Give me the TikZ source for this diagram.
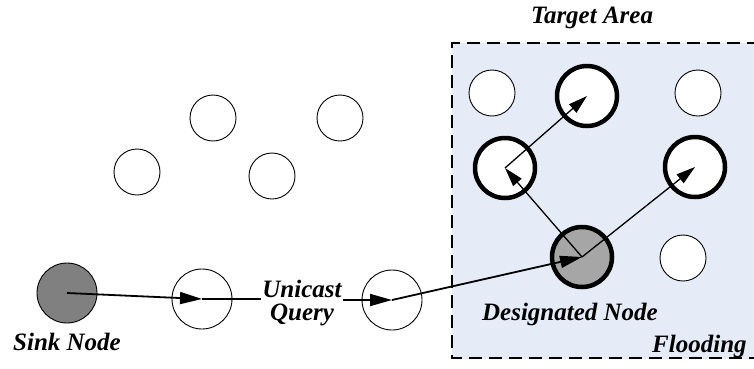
\documentclass[tikz,border=0pt]{standalone}
\usepackage{fontspec}
\setmainfont{Liberation Serif}
\usetikzlibrary{arrows.meta}
\definecolor{areafill}{RGB}{230,236,247}
\definecolor{sinkgray}{RGB}{128,128,128}
\definecolor{desggray}{RGB}{166,166,166}
\begin{document}
\begin{tikzpicture}[x=1pt,y=-1pt,
  plain/.style={circle,draw=black,line width=0.9pt,fill=white,minimum size=46pt,inner sep=0pt},
  hop/.style={circle,draw=black,line width=0.9pt,fill=white,minimum size=60pt,inner sep=0pt},
  relay/.style={circle,draw=black,line width=4.5pt,fill=white,minimum size=60pt,inner sep=0pt},
  lbl/.style={font=\bfseries\itshape\fontsize{25}{27}\selectfont,inner sep=1pt},
  msg/.style={line width=1.8pt,-{Triangle[length=22pt,width=12pt]}},
  fld/.style={line width=1.3pt,-{Triangle[length=19pt,width=11pt]}}]
\useasboundingbox (0,0) rectangle (754,368);
% target area
\draw[areafill,fill=areafill] (452,43) rectangle (760,358);
\draw[line width=1.8pt,dash pattern=on 13pt off 7pt] (760,43) -- (452,43) -- (452,358) -- (760,358);
\node[lbl] (ta) at (592,18) {Target Area};
% nodes outside the area
\node[plain] (o1) at (213,118) {};
\node[plain] (o2) at (340,118) {};
\node[plain] (o3) at (137,172) {};
\node[plain] (o4) at (272,176) {};
\node[circle,draw=black,line width=0.9pt,fill=sinkgray,minimum size=60pt,inner sep=0pt] (sink) at (67,293) {};
\node[hop] (h1) at (202,299) {};
\node[hop] (h2) at (392,300) {};
% nodes inside the area
\node[plain] (t1) at (492,93) {};
\node[plain] (t2) at (698,93) {};
\node[plain] (t3) at (683,258) {};
\node[relay] (r1) at (587,96) {};
\node[relay] (r2) at (505,168) {};
\node[relay] (r3) at (695,167) {};
\node[relay,fill=desggray] (dn) at (582,257) {};
% labels
\node[lbl] (sl) at (67,342) {Sink Node};
\node[lbl] (dl) at (570,314) {Designated Node};
\node[lbl,anchor=west] (fl) at (651,346) {Flooding};
% unicast path
\draw[msg] (sink.center) -- (h1.center);
\node[lbl,fill=white,align=center,inner sep=1pt] (uq) at (302,303) {Unicast\\[-4pt]Query};
\draw[line width=1.8pt] (h1.center) -- (uq.west |- h1.center);
\draw[msg] (uq.east |- h2.center) -- (h2.center);
\draw[msg] (h2.center) -- (dn.center);
% flooding
\draw[fld] (dn.center) -- (r2.center);
\draw[fld] (dn.center) -- (r3.center);
\draw[fld] (r2.center) -- (r1.center);
\end{tikzpicture}
\end{document}
